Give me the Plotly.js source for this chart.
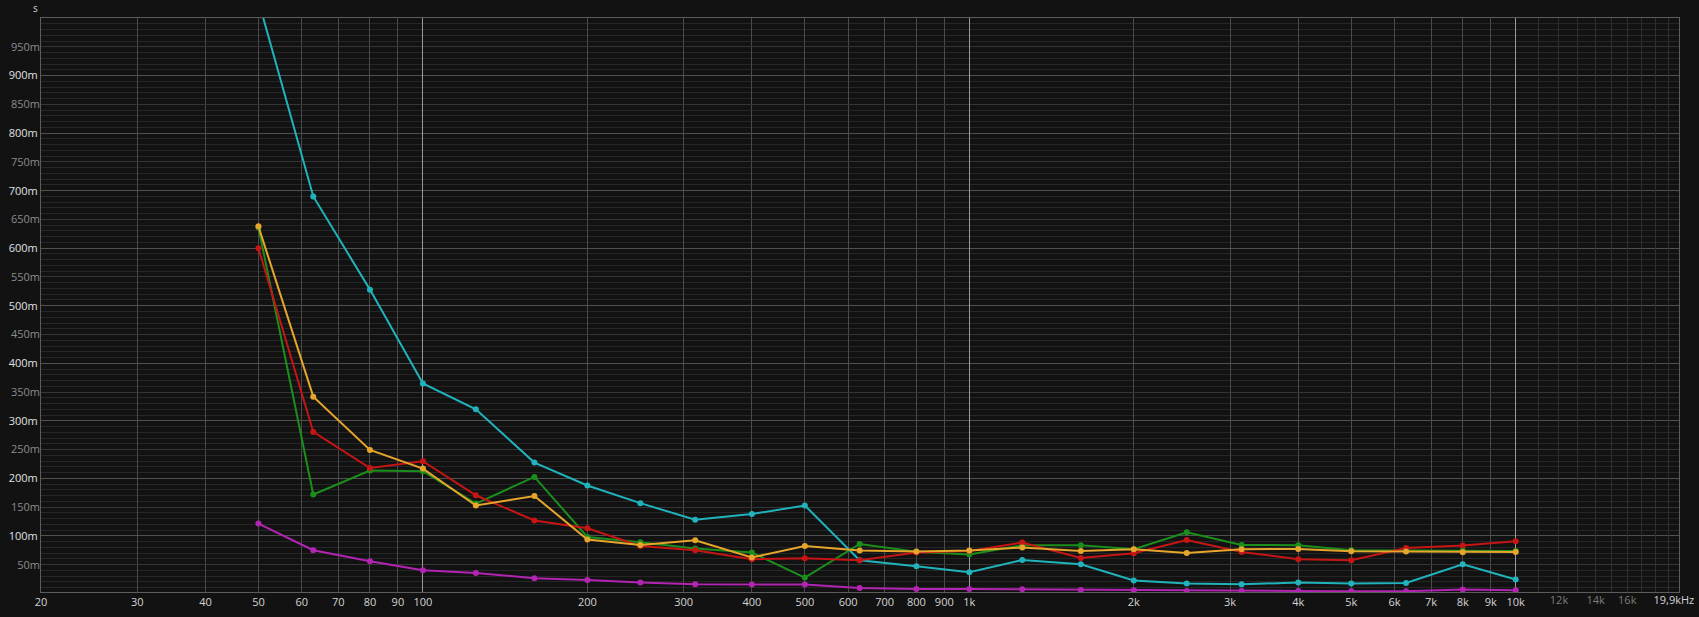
<!DOCTYPE html>
<html>
<head>
<meta charset="utf-8">
<script src="https://cdn.plot.ly/plotly-3.0.1.min.js"></script>
<style>
html, body { margin: 0; padding: 0; background: #121212; }
#chart { width: 1699px; height: 617px; }
</style>
</head>
<body>
<div id="chart"></div>
<script>
// ---- data (seconds) ----
const freqs = [50, 63, 80, 100, 125, 160, 200, 250, 315, 400, 500, 630, 800, 1000, 1250, 1600, 2000, 2500, 3150, 4000, 5000, 6300, 8000, 10000];

const cyanVals    = [1.030, 0.690, 0.528, 0.365, 0.320, 0.2275, 0.1876, 0.157, 0.128, 0.138, 0.153, 0.0578, 0.0473, 0.0369, 0.0583, 0.0508, 0.0225, 0.0173, 0.016, 0.019, 0.0173, 0.0183, 0.0508, 0.0242];
const greenVals   = [0.636, 0.172, 0.2136, 0.2124, 0.1563, 0.2025, 0.0983, 0.089, 0.078, 0.0712, 0.0277, 0.086, 0.0725, 0.0677, 0.0838, 0.0838, 0.077, 0.1064, 0.0844, 0.0838, 0.075, 0.0743, 0.0745, 0.074];
const redVals     = [0.600, 0.2807, 0.218, 0.2298, 0.1707, 0.1268, 0.1134, 0.0826, 0.0752, 0.0595, 0.0613, 0.0578, 0.0712, 0.074, 0.0885, 0.0618, 0.070, 0.093, 0.0722, 0.0595, 0.0578, 0.0792, 0.0833, 0.0908];
const yellowVals  = [0.638, 0.342, 0.2494, 0.217, 0.1528, 0.1695, 0.0937, 0.0844, 0.0925, 0.0625, 0.0826, 0.0746, 0.0729, 0.0746, 0.0798, 0.074, 0.0769, 0.0705, 0.0769, 0.0774, 0.0734, 0.0729, 0.0717, 0.0722];
const magentaVals = [0.1215, 0.0752, 0.056, 0.0404, 0.0357, 0.0265, 0.0235, 0.019, 0.016, 0.0155, 0.0155, 0.0096, 0.008, 0.008, 0.0074, 0.0062, 0.0056, 0.0044, 0.0044, 0.0044, 0.0039, 0.0039, 0.0069, 0.0056];

// ---- ticks ----
const xTickVals   = [20, 30, 40, 50, 60, 70, 80, 90, 100, 200, 300, 400, 500, 600, 700, 800, 900, 1000, 2000, 3000, 4000, 5000, 6000, 7000, 8000, 9000, 10000];
const xTickLabels = ['20', '30', '40', '50', '60', '70', '80', '90', '100', '200', '300', '400', '500', '600', '700', '800', '900', '1k', '2k', '3k', '4k', '5k', '6k', '7k', '8k', '9k', '10k'];
const xEndVals    = [19900];
const xEndLabels  = ['19,9kHz'];
const xDecadeVals = [100, 1000, 10000];
const xHighVals   = [11000, 12000, 13000, 14000, 15000, 16000, 17000, 18000, 19000];
const xHighLabels = ['', '12k', '', '14k', '', '16k', '', '', ''];

const yMajorVals   = [0.1, 0.2, 0.3, 0.4, 0.5, 0.6, 0.7, 0.8, 0.9];
const yMajorLabels = ['100m', '200m', '300m', '400m', '500m', '600m', '700m', '800m', '900m'];
const yHalfVals    = [0.05, 0.15, 0.25, 0.35, 0.45, 0.55, 0.65, 0.75, 0.85, 0.95];
const yHalfLabels  = ['50m', '150m', '250m', '350m', '450m', '550m', '650m', '750m', '850m', '950m'];

const FONT = 'Open Sans, Noto Sans, DejaVu Sans, sans-serif';

function series(vals, color) {
  return {
    x: freqs, y: vals, type: 'scatter', mode: 'lines+markers',
    line: { color: color, width: 2 },
    marker: { color: color, size: 6 },
    hoverinfo: 'skip', showlegend: false
  };
}

const traces = [
  { x: [], y: [], xaxis: 'x2', yaxis: 'y', type: 'scatter', showlegend: false, hoverinfo: 'skip' },
  { x: [], y: [], xaxis: 'x3', yaxis: 'y', type: 'scatter', showlegend: false, hoverinfo: 'skip' },
  { x: [], y: [], xaxis: 'x4', yaxis: 'y', type: 'scatter', showlegend: false, hoverinfo: 'skip' },
  { x: [], y: [], xaxis: 'x', yaxis: 'y2', type: 'scatter', showlegend: false, hoverinfo: 'skip' },
  series(cyanVals, '#21b3bb'),
  series(greenVals, '#1b8e1b'),
  series(redVals, '#c61515'),
  series(yellowVals, '#e6a52b'),
  series(magentaVals, '#b224b2')
];

const xRange = [Math.log10(20), Math.log10(19900)];
const yRange = [0.0026, 1.0];

const layout = {
  width: 1699, height: 617,
  paper_bgcolor: '#121212', plot_bgcolor: '#121212',
  margin: { l: 41, r: 20, t: 18, b: 25, pad: 0 },
  font: { family: FONT, size: 11, color: '#d4d4d4' },
  showlegend: false,
  hovermode: false,
  xaxis: {
    type: 'log', range: xRange, tickmode: 'array',
    tickvals: xTickVals, ticktext: xTickLabels,
    tickfont: { family: FONT, size: 11, color: '#d4d4d4' },
    showgrid: true, gridcolor: '#4a4a4a', gridwidth: 1,
    showline: true, mirror: true, linecolor: '#5c5c5c', linewidth: 1,
    zeroline: false, ticks: '', fixedrange: true
  },
  xaxis2: {
    type: 'log', range: xRange, overlaying: 'x', anchor: 'y', side: 'bottom',
    tickmode: 'array', tickvals: xDecadeVals, showticklabels: false,
    showgrid: true, gridcolor: '#9a9a9a', gridwidth: 1,
    showline: false, zeroline: false, ticks: '', fixedrange: true
  },
  xaxis3: {
    type: 'log', range: xRange, overlaying: 'x', anchor: 'y', side: 'bottom',
    tickmode: 'array', tickvals: xHighVals, ticktext: xHighLabels,
    tickfont: { family: FONT, size: 11, color: '#7c7c7c' },
    showgrid: true, gridcolor: '#2f2f2f', gridwidth: 1,
    showline: false, zeroline: false, ticks: '', fixedrange: true
  },
  xaxis4: {
    type: 'log', range: [xRange[0], Math.log10(19910)], overlaying: 'x', anchor: 'y', side: 'bottom',
    tickmode: 'array', tickvals: xEndVals, ticktext: xEndLabels,
    tickfont: { family: FONT, size: 11, color: '#d4d4d4' },
    ticklabelshift: -5, ticklabeloverflow: 'allow',
    showgrid: false, showline: false, zeroline: false, ticks: '', fixedrange: true
  },
  yaxis: {
    range: yRange, tickmode: 'array',
    tickvals: yMajorVals, ticktext: yMajorLabels,
    tickfont: { family: FONT, size: 11, color: '#e0e0e0' },
    showgrid: true, gridcolor: '#505050', gridwidth: 1,
    minor: { tickmode: 'linear', tick0: 0, dtick: 0.01, showgrid: true, gridcolor: '#262626', gridwidth: 1, ticks: '' },
    showline: true, mirror: true, linecolor: '#5c5c5c', linewidth: 1,
    zeroline: false, ticks: '', fixedrange: true
  },
  yaxis2: {
    range: yRange, overlaying: 'y', anchor: 'x', side: 'left',
    tickmode: 'array', tickvals: yHalfVals, ticktext: yHalfLabels,
    tickfont: { family: FONT, size: 11, color: '#8c8c8c' },
    showgrid: true, gridcolor: '#363636', gridwidth: 1,
    showline: false, zeroline: false, ticks: '', fixedrange: true
  },
  annotations: [{
    xref: 'paper', yref: 'paper', x: 0, y: 1, xanchor: 'right', yanchor: 'bottom',
    xshift: -1, yshift: 1, text: 's', showarrow: false,
    font: { family: FONT, size: 10, color: '#cfcfcf' }
  }]
};

Plotly.newPlot('chart', traces, layout, { displayModeBar: false, staticPlot: true });
</script>
</body>
</html>
